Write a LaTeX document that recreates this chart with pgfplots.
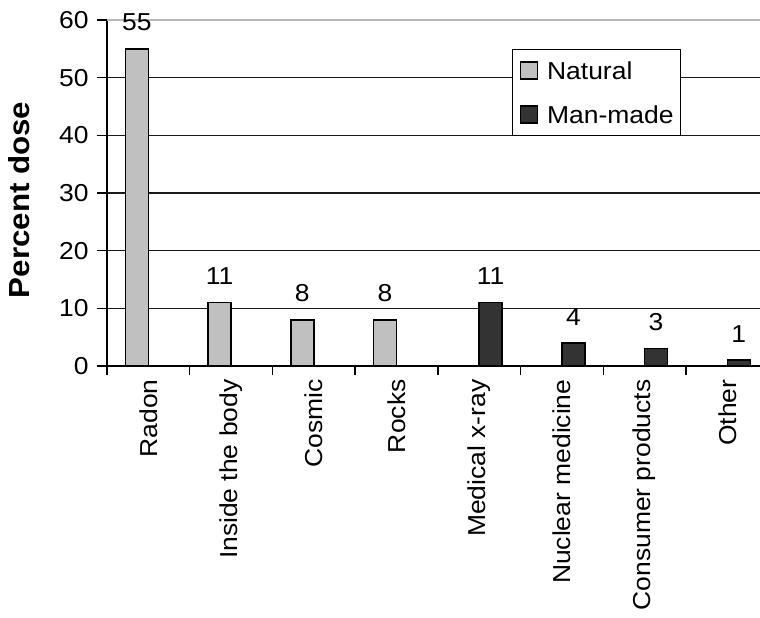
\documentclass[border=0pt]{standalone}
\usepackage{fontspec}
\setmainfont{Liberation Sans}[FakeStretch=1.08]
\usepackage{pgfplots}
\pgfplotsset{compat=1.18}
\definecolor{nat}{RGB}{192,192,192}
\definecolor{man}{RGB}{51,51,51}
\newcommand\tf{\fontsize{24.5bp}{29bp}\selectfont}
\pgfplotsset{
  sqlegend/.style={legend image code/.code={\draw[##1, line width=1.4bp] (0bp,-8.5bp) rectangle (17bp,8.5bp);}},
}
\begin{document}
\begin{tikzpicture}
\begin{axis}[
  at={(0,0)}, anchor=south west,
  scale only axis, width=653bp, height=346bp,
  xmin=-0.5, xmax=7.396, ymin=0, ymax=60,
  axis x line*=bottom, axis y line*=left,
  axis line style={black, line width=1.4bp},
  clip=false,
  xtick={0,...,7},
  xticklabels={Radon, Inside the body, Cosmic, Rocks, Medical x-ray, Nuclear medicine, Consumer products, Other},
  x tick label style={rotate=90, anchor=east, font=\tf},
  major x tick style={draw=none},
  minor xtick={-0.5,0.5,...,6.5},
  minor tick length=9bp,
  ytick={0,10,...,50},
  extra y ticks={60},
  extra y tick style={grid=major, major grid style={gray!55, line width=1.2bp}},
  ymajorgrids, major grid style={black!90, line width=1.3bp},
  major tick length=10bp,
  tick align=outside,
  tick style={black, line width=1.4bp},
  y tick label style={font=\tf, xshift=-5bp},
  /pgf/number format/assume math mode=true,
  ylabel={\fontsize{29bp}{34bp}\selectfont\bfseries Percent dose},
  ylabel style={at={(axis description cs:-0.135,0.48)}, anchor=center},
  every node near coord/.append style={font=\tf, anchor=south, inner sep=0pt, yshift=17bp, text=black},
  legend cell align=left,
  legend style={at={(axis description cs:0.6202,0.9162)}, anchor=north west, draw=black, line width=1.4bp, fill=white,
    inner xsep=7bp, inner ysep=9.5bp, row sep=21bp, column sep=9bp, font=\tf,
    nodes={inner sep=0pt, text height=20bp, text depth=3bp}},
]
\addplot[ybar, bar width=23bp, bar shift=-11.5bp, fill=nat, draw=black, line width=1.5bp, nodes near coords,
  every node near coord/.append style={xshift=-11.5bp}, sqlegend]
  coordinates {(0,55) (1,11) (2,8) (3,8)};
\addplot[ybar, bar width=23bp, bar shift=11.5bp, fill=man, draw=black, line width=1.5bp, nodes near coords,
  every node near coord/.append style={xshift=11.5bp}, sqlegend]
  coordinates {(4,11) (5,4) (6,3) (7,1)};
\legend{Natural, Man-made}
\end{axis}
\pgfresetboundingbox
\path[use as bounding box] (-107bp,-252bp) rectangle (653bp,366bp);
\end{tikzpicture}
\end{document}
